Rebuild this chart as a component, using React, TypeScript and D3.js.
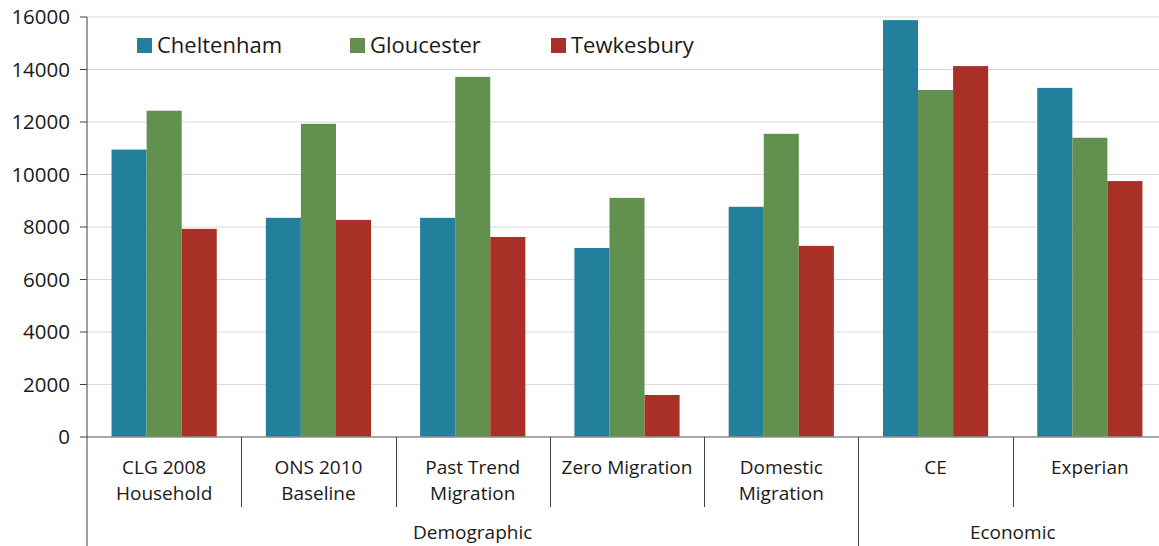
import React from "react";
import * as d3 from "d3";

const categories = [
  ["CLG 2008", "Household"],
  ["ONS 2010", "Baseline"],
  ["Past Trend", "Migration"],
  ["Zero Migration"],
  ["Domestic", "Migration"],
  ["CE"],
  ["Experian"],
];
const seriesNames = ["Cheltenham", "Gloucester", "Tewkesbury"];
const cheltenham = [10950, 8350, 8350, 7200, 8770, 15880, 13300];
const gloucester = [12430, 11930, 13720, 9110, 11550, 13220, 11400];
const tewkesbury = [7930, 8270, 7620, 1600, 7280, 14130, 9750];
const groups = [
  { name: "Demographic", from: 0, to: 5 },
  { name: "Economic", from: 5, to: 7 },
];
const yTicks = [0, 2000, 4000, 6000, 8000, 10000, 12000, 14000, 16000];
const colors = ["#23809C", "#62914F", "#A93026"];

const W = 1159;
const H = 546;
const left = 87;
const right = 1167;
const top = 17;
const bottom = 437;
const font = "'Open Sans', 'Liberation Sans', sans-serif";
const legendX = [137, 350, 551];

export default function App() {
  const values = [cheltenham, gloucester, tewkesbury];
  const idx = categories.map((_, i) => i);
  const x = d3.scaleBand<number>().domain(idx).range([left, right]).paddingInner(0).paddingOuter(0);
  const inner = d3
    .scaleBand<number>()
    .domain([0, 1, 2])
    .range([0, x.bandwidth()])
    .paddingOuter(0.7)
    .paddingInner(0);
  const y = d3.scaleLinear().domain([0, 16000]).range([bottom, top]);
  const bw = x.bandwidth();

  return (
    <div style={{ position: "fixed", left: 0, top: 0 }}>
      <svg width={W} height={H} style={{ display: "block", background: "#fff" }} fontFamily={font}>
        {/* gridlines */}
        {yTicks.slice(1).map((t) => (
          <line key={t} x1={left} x2={W} y1={y(t)} y2={y(t)} stroke="#d9d9d9" strokeWidth={1} />
        ))}
        {/* bars */}
        {values.map((vals, s) =>
          vals.map((v, i) => (
            <rect
              key={`${s}-${i}`}
              x={(x(i) as number) + (inner(s) as number)}
              y={y(v)}
              width={inner.bandwidth()}
              height={y(0) - y(v)}
              fill={colors[s]}
            />
          ))
        )}
        {/* baseline */}
        <line x1={left} x2={W} y1={bottom} y2={bottom} stroke="#8c8c8c" strokeWidth={1.5} />
        {/* y axis */}
        <line x1={left} x2={left} y1={top} y2={H} stroke="#404040" strokeWidth={1} />
        {yTicks.map((t) => (
          <g key={t}>
            <line x1={left - 7} x2={left} y1={y(t)} y2={y(t)} stroke="#404040" />
            <text x={left - 17} y={y(t)} dy="0.35em" textAnchor="end" fontSize={20.5} fill="#1a1a1a">
              {t}
            </text>
          </g>
        ))}
        {/* category separators */}
        {idx.slice(1).map((i) => {
          const isGroup = groups.some((g) => g.from === i);
          const xx = Math.round(x(i) as number) + 0.5;
          return (
            <line
              key={i}
              x1={xx}
              x2={xx}
              y1={bottom}
              y2={isGroup ? H : 507}
              stroke="#404040"
              strokeWidth={1}
            />
          );
        })}
        {/* category labels */}
        {categories.map((lines, i) => (
          <text
            key={i}
            x={(x(i) as number) + bw / 2}
            textAnchor="middle"
            fontSize={19}
            fill="#1a1a1a"
          >
            {lines.map((l, k) => (
              <tspan key={k} x={(x(i) as number) + bw / 2} y={474 + k * 26}>
                {l}
              </tspan>
            ))}
          </text>
        ))}
        {/* group labels */}
        {groups.map((g) => {
          const x0 = x(g.from) as number;
          const x1 = g.to >= categories.length ? right : (x(g.to) as number);
          return (
            <text key={g.name} x={(x0 + x1) / 2} y={539} textAnchor="middle" fontSize={19} fill="#1a1a1a">
              {g.name}
            </text>
          );
        })}
        {/* legend */}
        {seriesNames.map((n, s) => {
          const lx = legendX[s];
          return (
            <g key={n}>
              <rect x={lx} y={38} width={15} height={15} fill={colors[s]} />
              <text x={lx + 20} y={53} fontSize={22} fill="#1a1a1a">
                {n}
              </text>
            </g>
          );
        })}
      </svg>
    </div>
  );
}
